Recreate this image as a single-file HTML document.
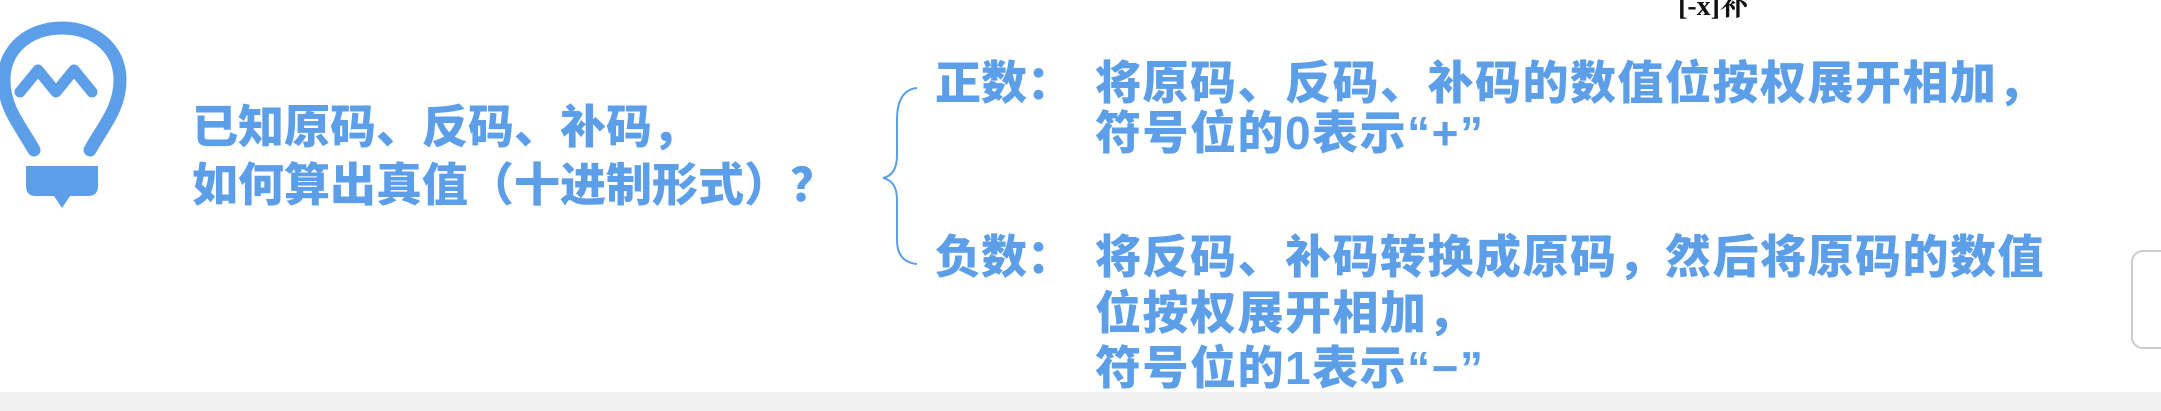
<!DOCTYPE html>
<html><head><meta charset="utf-8"><style>
html,body{margin:0;padding:0;}
body{width:2161px;height:411px;background:#fff;position:relative;overflow:hidden;font-family:"Liberation Sans","Noto Sans CJK SC",sans-serif;}
.t{position:absolute;color:#5c9fe8;font-weight:900;font-size:46px;line-height:46px;white-space:nowrap;letter-spacing:0px;}
.r{letter-spacing:1.5px;}
</style></head><body>
<div style="position:absolute;left:0;top:392px;width:2161px;height:19px;background:#f1f1f1;"></div>
<svg style="position:absolute;left:0;top:0" width="140" height="220">
<path d="M34 150 C20 125 4 108 4 80 C4 48 30 28 62 28 C94 28 120 48 120 80 C120 108 104 125 90 150" fill="none" stroke="#5c9fe8" stroke-width="13" stroke-linecap="round"/>
<path d="M20 92 L38 70 L56 92 L74 70 L92 92" fill="none" stroke="#5c9fe8" stroke-width="11" stroke-linejoin="round" stroke-linecap="round"/>
<path d="M26 166 L98 166 L98 186 Q98 196 88 196 L70 196 L62 208 L54 196 L36 196 Q26 196 26 186 Z" fill="#5c9fe8"/>
</svg>
<div class="t" style="left:192px;top:104px;">已知原码、反码、补码，</div>
<div class="t" style="left:192px;top:162px;">如何算出真值（十进制形式）？</div>
<svg style="position:absolute;left:855px;top:80px" width="70" height="190">
<path d="M62 8 Q42 10 42 40 L42 75 Q42 95 28 98 Q42 101 42 120 L42 160 Q42 182 62 184" fill="none" stroke="#5c9fe8" stroke-width="2"/>
</svg>
<div class="t" style="left:935px;top:60px;">正数：</div>
<div class="t r" style="left:1095px;top:60px;">将原码、反码、补码的数值位按权展开相加，</div>
<div class="t r" style="left:1095px;top:110px;">符号位的0表示“+”</div>
<div class="t" style="left:935px;top:234px;">负数：</div>
<div class="t r" style="left:1095px;top:234px;">将反码、补码转换成原码，然后将原码的数值</div>
<div class="t r" style="left:1095px;top:290px;">位按权展开相加，</div>
<div class="t r" style="left:1095px;top:345px;">符号位的1表示“−”</div>
<div style="position:absolute;left:1678px;top:-16px;font-size:28px;font-weight:bold;color:#111;font-family:'Liberation Serif','Noto Serif CJK SC',serif;">[-x]补</div>
<div style="position:absolute;left:2131px;top:250px;width:60px;height:95px;border:2px solid #ccc;border-radius:12px;background:#fff;"></div>
</body></html>
